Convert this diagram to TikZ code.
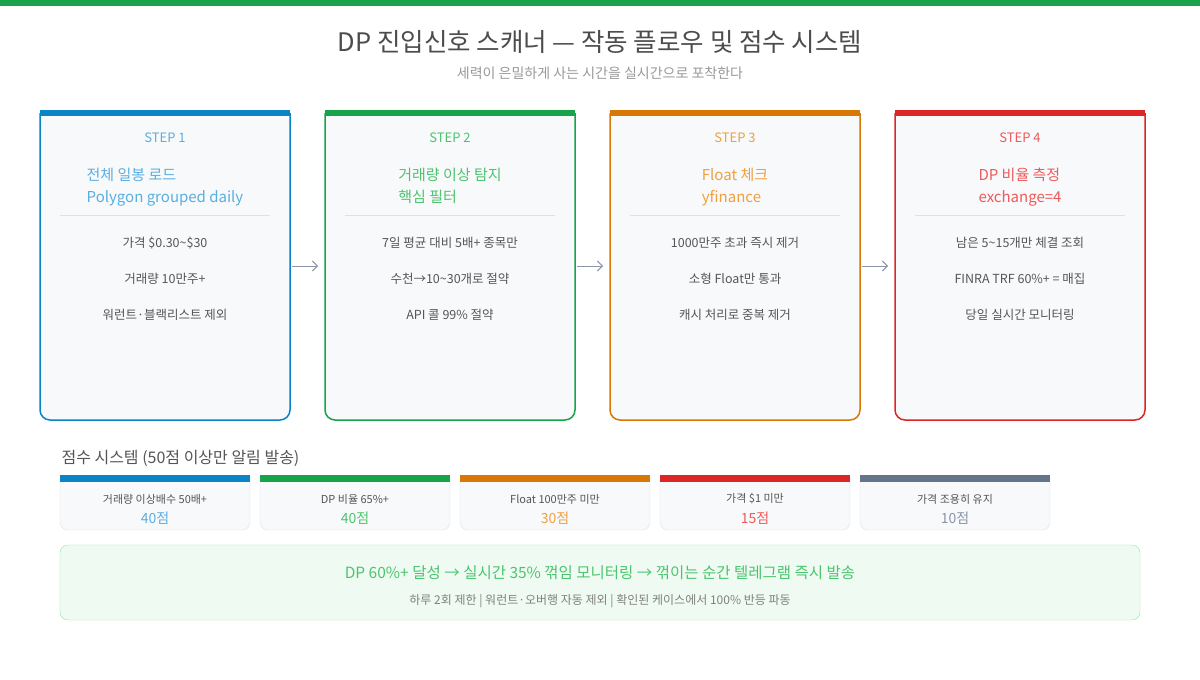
\documentclass[tikz,border=0pt]{standalone}
\usepackage{fontspec}
\usetikzlibrary{arrows.meta}
\setmainfont{Noto Sans CJK KR}
\definecolor{cb}{HTML}{0A84C6}\definecolor{tb}{HTML}{5AAEE0}
\definecolor{cg}{HTML}{16A34A}\definecolor{tg}{HTML}{4CC46E}
\definecolor{co}{HTML}{D97706}\definecolor{to}{HTML}{EFA040}
\definecolor{cr}{HTML}{DC2626}\definecolor{tr}{HTML}{EE5A5A}
\definecolor{cs}{HTML}{64748B}\definecolor{ts}{HTML}{8A94A6}
\definecolor{txt}{HTML}{555555}\definecolor{bgc}{HTML}{F8F9FB}
\definecolor{ln}{HTML}{DDE1E7}\definecolor{gbd}{HTML}{8EE6A8}\definecolor{gbg}{HTML}{EFFBF2}
\begin{document}
\begin{tikzpicture}[x=1pt,y=-1pt,
 fs/.style={font=\fontsize{#1}{#1}\selectfont},
 itm/.style={fs=12.5,text=txt},
 arr/.style={draw=ts,-{Straight Barb[length=5pt,width=10pt]},line width=0.9pt}]
\useasboundingbox (0,0) rectangle (1200,680);
\fill[white] (0,0) rectangle (1200,680);
\fill[cg] (0,0) rectangle (1200,6);
\node[fs=25.5,text=black!70] (title) at (600,42) {DP 진입신호 스캐너 — 작동 플로우 및 점수 시스템};
\node[fs=14,text=black!40] (sub) at (600,73) {세력이 은밀하게 사는 시간을 실시간으로 포착한다};
\newcommand\stepbox[9]{% x, col, textcol, n, t1, t2, i1, i2, i3
 \draw[#2,line width=1.5pt,fill=bgc,rounded corners=10pt] (#1,113) -- (#1,420) -- (#1+250,420) -- (#1+250,113);
 \fill[#2] (#1,110) rectangle (#1+250,116);
 \node[fs=13,text=#3] (s#4) at (#1+125,138) {STEP #4};
 \node[fs=15,text=#3,align=left,anchor=north] (h#4) at (#1+125,165) {#5\\[6.5pt]#6};
 \draw[ln] (#1+20,215) -- (#1+230,215);
 \node[itm] (a#4) at (#1+125,243) {#7};
 \node[itm] (b#4) at (#1+125,279) {#8};
 \node[itm] (c#4) at (#1+125,315) {#9};
 \coordinate (L#4) at (#1,266); \coordinate (R#4) at (#1+250,266);}
\stepbox{40}{cb}{tb}{1}{전체 일봉 로드}{Polygon grouped daily}{가격 \$0.30\textasciitilde\$30}{거래량 10만주+}{워런트·블랙리스트 제외}
\stepbox{325}{cg}{tg}{2}{거래량 이상 탐지}{핵심 필터}{7일 평균 대비 5배+ 종목만}{수천→10\textasciitilde30개로 절약}{API 콜 99\% 절약}
\stepbox{610}{co}{to}{3}{Float 체크}{yfinance}{1000만주 초과 즉시 제거}{소형 Float만 통과}{캐시 처리로 중복 제거}
\stepbox{895}{cr}{tr}{4}{DP 비율 측정}{exchange=4}{남은 5\textasciitilde15개만 체결 조회}{FINRA TRF 60\%+ = 매집}{당일 실시간 모니터링}
\draw[arr] ([xshift=2pt]R1) -- ([xshift=-7pt]L2);
\draw[arr] ([xshift=2pt]R2) -- ([xshift=-7pt]L3);
\draw[arr] ([xshift=2pt]R3) -- ([xshift=-7pt]L4);
\node[fs=16,text=txt,anchor=west] (sh) at (58,458) {점수 시스템 (50점 이상만 알림 발송)};
\newcommand\card[5]{%
 \draw[ln,fill=bgc,rounded corners=8pt] (#1,478) -- (#1,530) -- (#1+190,530) -- (#1+190,478);
 \fill[#2] (#1,475) rectangle (#1+190,482);
 \node[fs=11,text=txt] (k#1) at (#1+95,499) {#4};
 \node[fs=14,text=#3] (v#1) at (#1+95,518) {#5};}
\card{60}{cb}{tb}{거래량 이상배수 50배+}{40점}
\card{260}{cg}{tg}{DP 비율 65\%+}{40점}
\card{460}{co}{to}{Float 100만주 미만}{30점}
\card{660}{cr}{tr}{가격 \$1 미만}{15점}
\card{860}{cs}{ts}{가격 조용히 유지}{10점}
\draw[draw=gbd,fill=gbg,rounded corners=8pt] (60,545) rectangle (1140,620);
\node[fs=15.5,text=tg] (m1) at (600,573) {DP 60\%+ 달성 → 실시간 35\% 꺾임 모니터링 → 꺾이는 순간 텔레그램 즉시 발송};
\node[fs=12,text=black!50] (m2) at (600,601) {하루 2회 제한 | 워런트·오버행 자동 제외 | 확인된 케이스에서 100\% 반등 파동};
\end{tikzpicture}
\end{document}
